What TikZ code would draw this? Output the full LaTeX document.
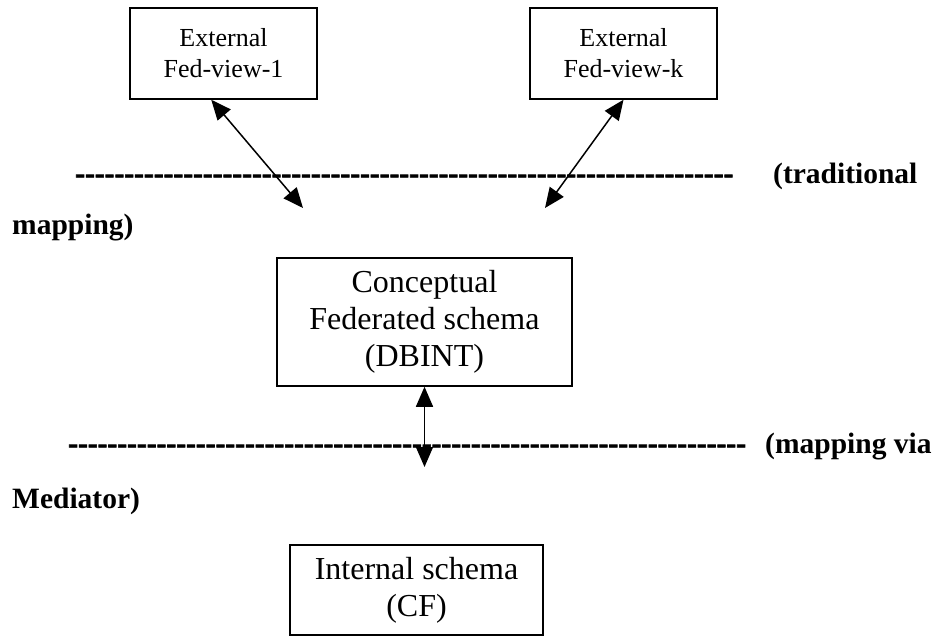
\documentclass[tikz,border=0pt]{standalone}
\usepackage{fontspec}
\setmainfont{Liberation Serif}
% plain family (no TeX ligature mapping) so runs of hyphens stay hyphens
\newfontfamily\rulefont{Liberation Serif}
% heavier hyphens for the separator rows
\newfontfamily\dashfont{Liberation Serif Bold}[FakeBold=2.2]
\usetikzlibrary{arrows.meta}

\ExplSyntaxOn
\cs_new:Npn \hyphenrun #1 { \prg_replicate:nn {#1} { - } }
\ExplSyntaxOff

\begin{document}
\begin{tikzpicture}[x=1pt,y=-1pt,
  box/.style={draw,line width=1.5pt,inner sep=0pt,align=center},
  viewbox/.style={box,font=\fontsize{26}{31}\selectfont,
    minimum width=187pt,minimum height=91pt},
  schemabox/.style={box,font=\fontsize{32}{37}\selectfont},
  lbl/.style={font=\rulefont\bfseries\fontsize{29.5}{34}\selectfont,
    inner sep=0pt,anchor=base west},
  dashrow/.style={font=\dashfont\fontsize{29.5}{34}\selectfont,
    inner sep=0pt,anchor=base west},
  link/.style={{Triangle[length=20pt,width=17pt]}-{Triangle[length=20pt,width=17pt]},
    line width=1.5pt}
]
\useasboundingbox (0,0) rectangle (945,636);

% external views
\node[viewbox] (ext1) at (223.5,53.5) {External\\Fed-view-1};
\node[viewbox] (extk) at (623.5,53.5) {External\\Fed-view-k};

% first separator row with its label
\node[dashrow] (sep1) at (75,183) {\hyphenrun{67}};
\node[lbl] (lab1a) at (773,184) {(traditional};
\node[lbl] (lab1b) at (12,235) {mapping)};

% conceptual federated schema
\node[schemabox,minimum width=295pt,minimum height=128pt] (cfs) at (424.5,322)
  {Conceptual\\Federated schema\\(DBINT)};

% second separator row with its label
\node[dashrow] (sep2) at (68,453) {\hyphenrun{69}};
\node[lbl] (lab2a) at (765,453) {(mapping via};
\node[lbl] (lab2b) at (12,508) {Mediator)};

% internal schema
\node[schemabox,minimum width=253pt,minimum height=90pt] (ins) at (416.5,590)
  {Internal schema\\(CF)};

% free ends of the mapping arrows
\coordinate (end1) at (303,208);
\coordinate (endk) at (545,208);
\coordinate (endm) at (424.5,467);

\draw[link] ([xshift=82pt]ext1.south west) -- (end1);
\draw[link] (extk.south) -- (endk);
\draw[link] (cfs.south) -- (endm);
\end{tikzpicture}
\end{document}
